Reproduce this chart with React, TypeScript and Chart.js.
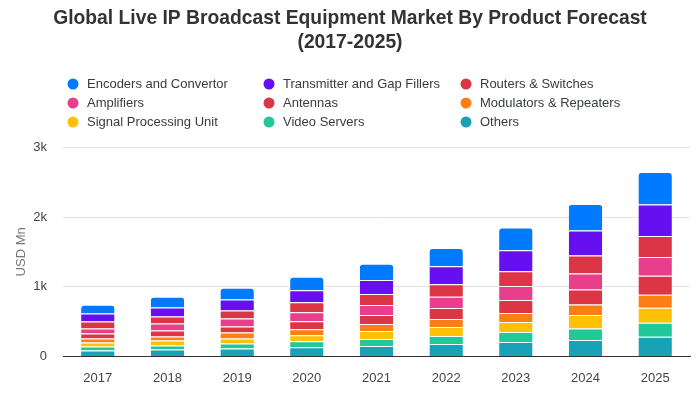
import React, { useEffect, useRef } from 'react';
import { Chart, registerables } from 'chart.js';

Chart.register(...registerables);

// ---- data (stack order: bottom -> top) ----
const years = ['2017', '2018', '2019', '2020', '2021', '2022', '2023', '2024', '2025'];

const others = [86, 100, 115, 133, 149, 178, 206, 235, 282];
const videoServers = [57, 58, 71, 86, 100, 114, 144, 166, 201];
const signalProcessingUnit = [58, 71, 72, 86, 115, 129, 143, 192, 215];
const modulatorsRepeaters = [57, 58, 86, 86, 100, 115, 129, 152, 186];
const antennas = [72, 85, 86, 114, 129, 157, 186, 215, 272];
const amplifiers = [71, 101, 114, 129, 143, 162, 201, 229, 272];
const routersSwitches = [100, 100, 115, 143, 158, 182, 214, 258, 301];
const transmitterGapFillers = [115, 129, 158, 172, 201, 258, 301, 358, 449];
const encodersConvertor = [125, 153, 167, 195, 233, 262, 324, 383, 468];

const seriesNames = [
  'Others',
  'Video Servers',
  'Signal Processing Unit',
  'Modulators & Repeaters',
  'Antennas',
  'Amplifiers',
  'Routers & Switches',
  'Transmitter and Gap Fillers',
  'Encoders and Convertor',
];
const seriesValues = [
  others,
  videoServers,
  signalProcessingUnit,
  modulatorsRepeaters,
  antennas,
  amplifiers,
  routersSwitches,
  transmitterGapFillers,
  encodersConvertor,
];
const seriesColors = [
  '#17a2b8',
  '#20c997',
  '#ffc107',
  '#fd7e14',
  '#dc3545',
  '#e83e8c',
  '#dc3545',
  '#6610f2',
  '#007bff',
];

const yTickLabels: Record<number, string> = { 0: '0', 1000: '1k', 2000: '2k', 3000: '3k' };

const FONT = '"Liberation Sans", Arial, Helvetica, sans-serif';

// Legend drawn as a 3-column grid (legend order = reversed stack order)
const gridLegend = {
  id: 'gridLegend',
  afterDraw(chart: any) {
    const ctx = chart.ctx as CanvasRenderingContext2D;
    const colX = [73, 269, 466];
    const rowY = [84, 103, 122];
    const items = chart.data.datasets.map((d: any) => ({ text: d.label, color: d.backgroundColor })).reverse();
    ctx.save();
    ctx.font = `13px ${FONT}`;
    ctx.textBaseline = 'middle';
    ctx.textAlign = 'left';
    items.forEach((it: any, i: number) => {
      const x = colX[i % 3];
      const y = rowY[Math.floor(i / 3)];
      ctx.beginPath();
      ctx.arc(x, y, 5.5, 0, Math.PI * 2);
      ctx.fillStyle = it.color;
      ctx.fill();
      ctx.fillStyle = '#373d3f';
      ctx.fillText(it.text, x + 14, y + 0.5);
    });
    ctx.restore();
  },
};

export default function App() {
  const canvasRef = useRef<HTMLCanvasElement | null>(null);

  useEffect(() => {
    document.body.style.margin = '0';
    const canvas = canvasRef.current;
    if (!canvas) return;
    const chart = new Chart(canvas, {
      type: 'bar',
      data: {
        labels: years,
        datasets: seriesNames.map((name, i) => ({
          label: name,
          data: seriesValues[i],
          backgroundColor: seriesColors[i],
          borderColor: '#ffffff',
          borderWidth: { top: 1, bottom: 0, left: 0, right: 0 },
          borderSkipped: 'start',
          borderRadius: 4,
          categoryPercentage: 0.8,
          barPercentage: 0.6,
        })),
      },
      options: {
        responsive: false,
        animation: false,
        devicePixelRatio: 1,
        layout: { padding: { left: 10, right: 10, top: 0, bottom: 0 } },
        plugins: {
          legend: { display: false },
          tooltip: { enabled: false },
          title: {
            display: true,
            text: ['Global Live IP Broadcast Equipment Market By Product Forecast', '(2017-2025)'],
            color: '#333333',
            font: { family: FONT, size: 19.3, weight: 'bold', lineHeight: 1.2 },
            padding: { top: 7.5, bottom: 93.5 },
          },
        },
        scales: {
          x: {
            stacked: true,
            grid: { display: false, drawTicks: false },
            border: { display: true, color: '#333333', width: 1 },
            ticks: { color: '#444444', font: { family: FONT, size: 13 }, padding: 14 },
          },
          y: {
            stacked: true,
            min: 0,
            max: 3000,
            grid: { color: '#e2e2e2', drawTicks: false },
            border: { display: false },
            afterFit: (scale: any) => {
              scale.width = 53;
            },
            ticks: {
              stepSize: 1000,
              padding: 16,
              color: '#444444',
              font: { family: FONT, size: 13 },
              callback: (v: any) => yTickLabels[Number(v)] ?? String(v),
            },
            title: {
              display: true,
              text: 'USD Mn',
              color: '#777777',
              font: { family: FONT, size: 13 },
              padding: 4,
            },
          },
        },
      },
      plugins: [gridLegend],
    });
    return () => chart.destroy();
  }, []);

  return <canvas ref={canvasRef} width={700} height={400} style={{ display: 'block' }} />;
}
